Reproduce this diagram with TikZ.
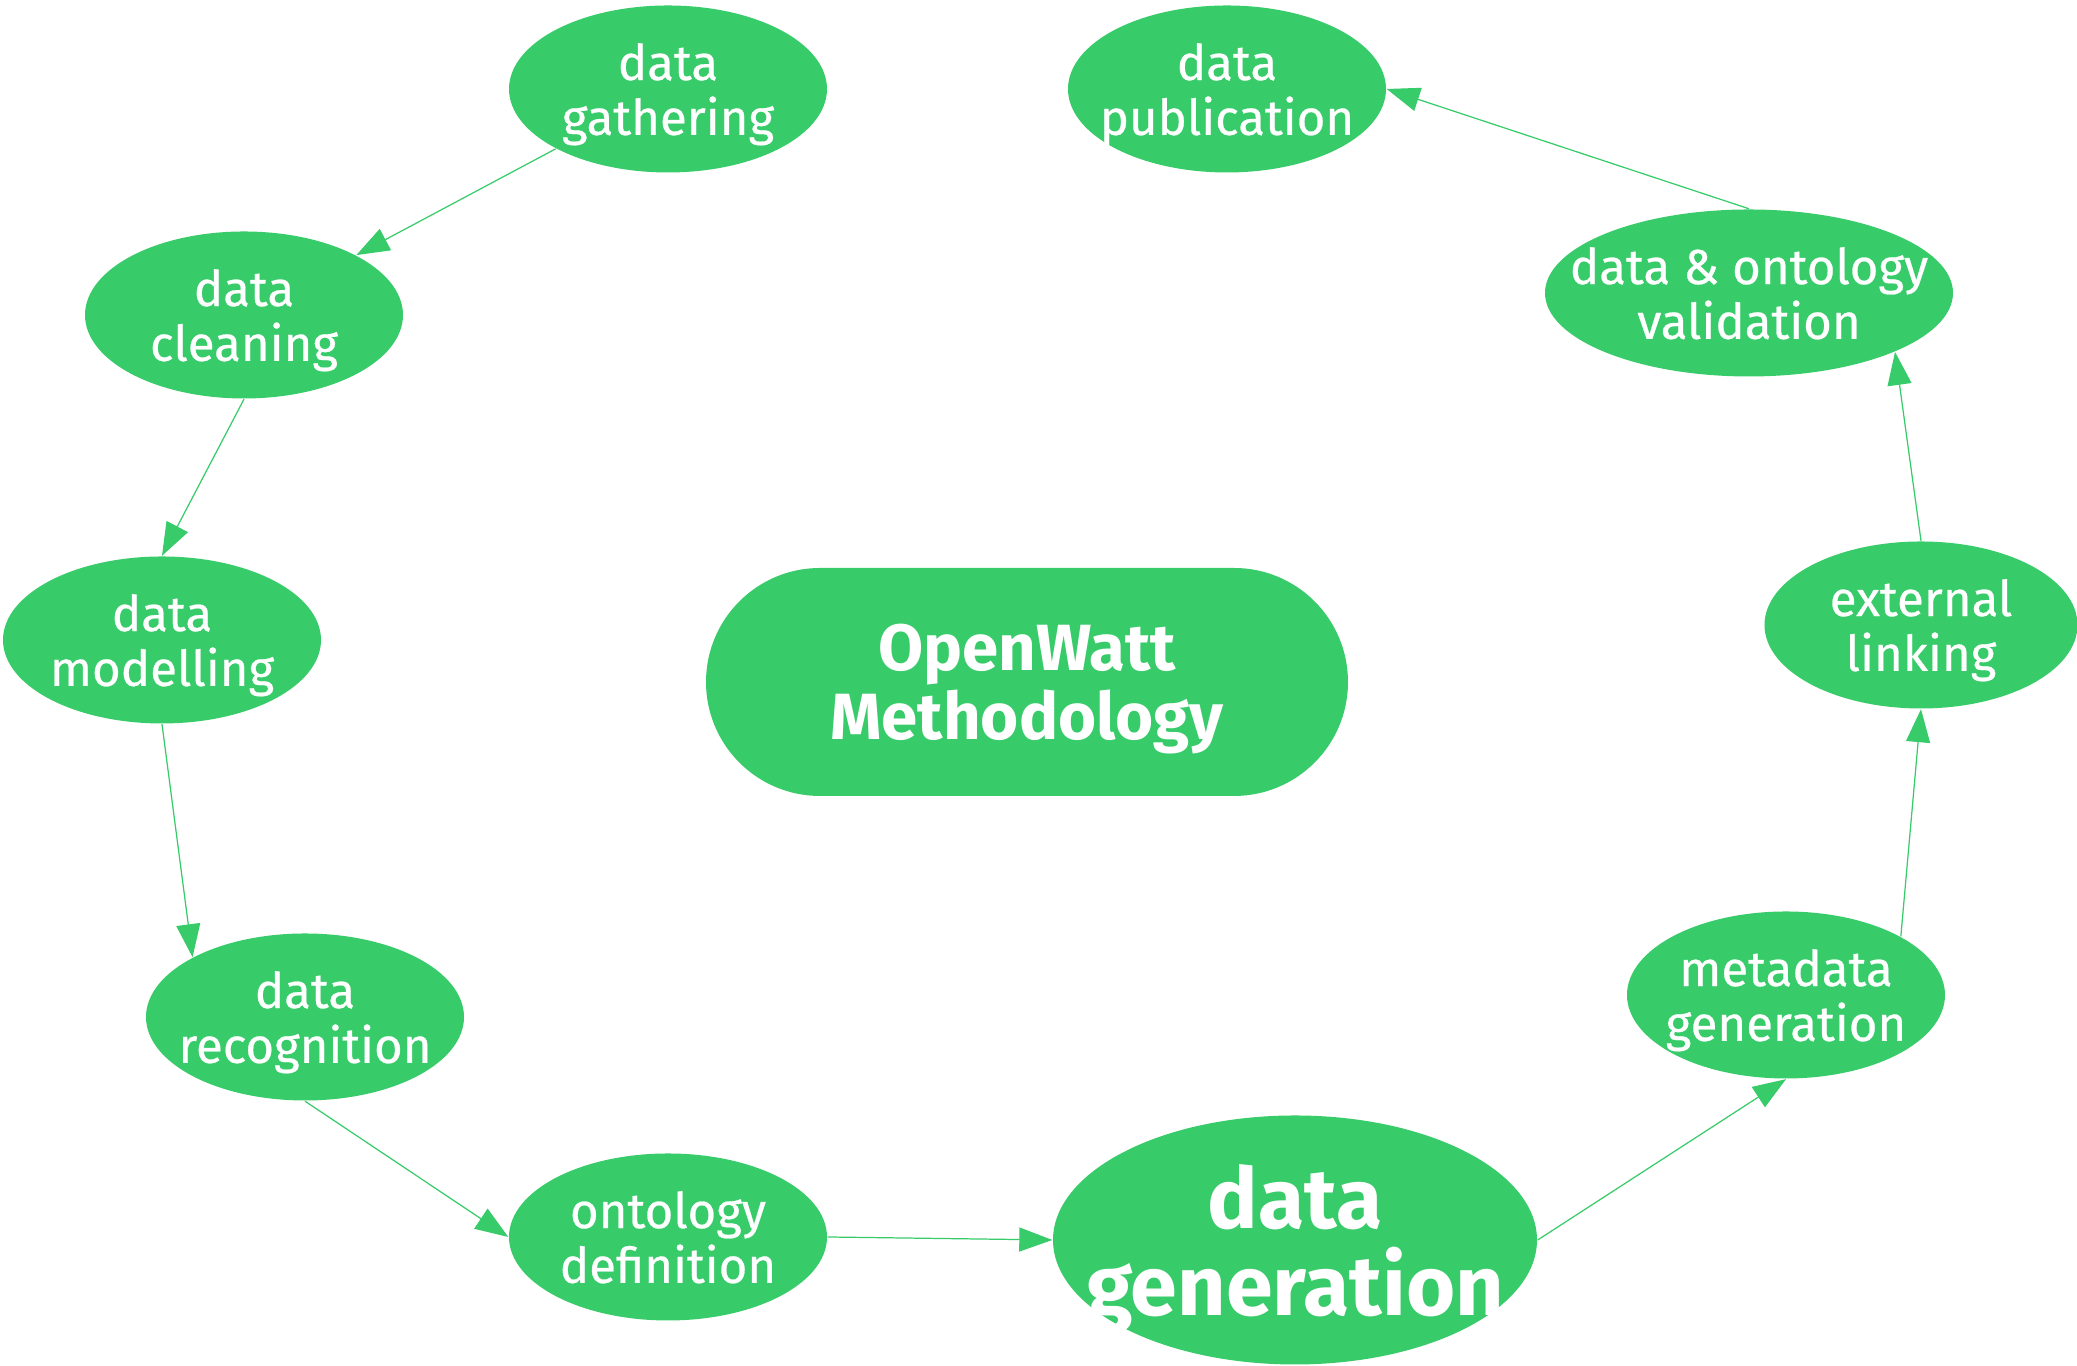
\documentclass[tikz,border=0pt]{standalone}
\usepackage{fontspec}
\setmainfont{Fira Sans}
\newfontfamily\stagefont{Fira Sans}[FakeBold=0.5]
\usepackage{tikz}
\usetikzlibrary{arrows.meta,shapes.geometric,shapes.misc}
\definecolor{owgreen}{RGB}{55,203,106}

\begin{document}
\begin{tikzpicture}[
  stage/.style={ellipse, fill=owgreen, text=white, align=center,
    inner xsep=-30pt, inner ysep=0pt, text depth=0pt,
    minimum width=3.18cm, minimum height=1.67cm,
    font=\stagefont\fontsize{14}{15.6}\selectfont},
  bigstage/.style={stage, inner ysep=-4pt,
    font=\bfseries\fontsize{24}{24.5}\selectfont},
  core/.style={rounded rectangle, fill=owgreen, text=white, align=center,
    inner xsep=0pt, inner ysep=0pt, text depth=0pt,
    minimum width=6.42cm, minimum height=2.28cm,
    font=\bfseries\fontsize{18.6}{19.6}\selectfont},
  flow/.style={draw=owgreen, line width=0.35pt,
    -{Triangle[length=0.33cm,width=0.24cm]}}
]
\useasboundingbox (0,0) rectangle (20.77,13.66);

\node[stage] (gather)  at (6.68,12.77)  {data\\gathering};
\node[stage] (publish) at (12.27,12.77) {data\\publication};
\node[stage] (clean)   at (2.44,10.51)  {data\\cleaning};
\node[stage, minimum width=4.08cm] (valid) at (17.49,10.73) {data \& ontology\\validation};
\node[stage] (model)   at (1.62,7.26)   {data\\modelling};
\node[stage, minimum width=3.13cm] (extern) at (19.21,7.41) {external\\linking};
\node[stage] (recog)   at (3.05,3.49)   {data\\recognition};
\node[stage] (meta)    at (17.86,3.71)  {metadata\\generation};
\node[stage] (onto)    at (6.68,1.29)   {ontology\\definition};
\node[bigstage, minimum width=4.84cm, minimum height=2.49cm] (gen) at (12.95,1.26) {data\\generation};

\node[core] (method) at (10.27,6.84) {OpenWatt\\Methodology};

% the cycle
\foreach \a/\b in {gather/clean, clean.south/model.north, model.south/recog.152,
  recog.south/onto.west, onto.east/gen.west, gen.east/meta.south,
  meta.27/extern.south, extern.north/valid.-22, valid.north/publish.east}
  \draw[flow] (\a) -- (\b);
\end{tikzpicture}
\end{document}
